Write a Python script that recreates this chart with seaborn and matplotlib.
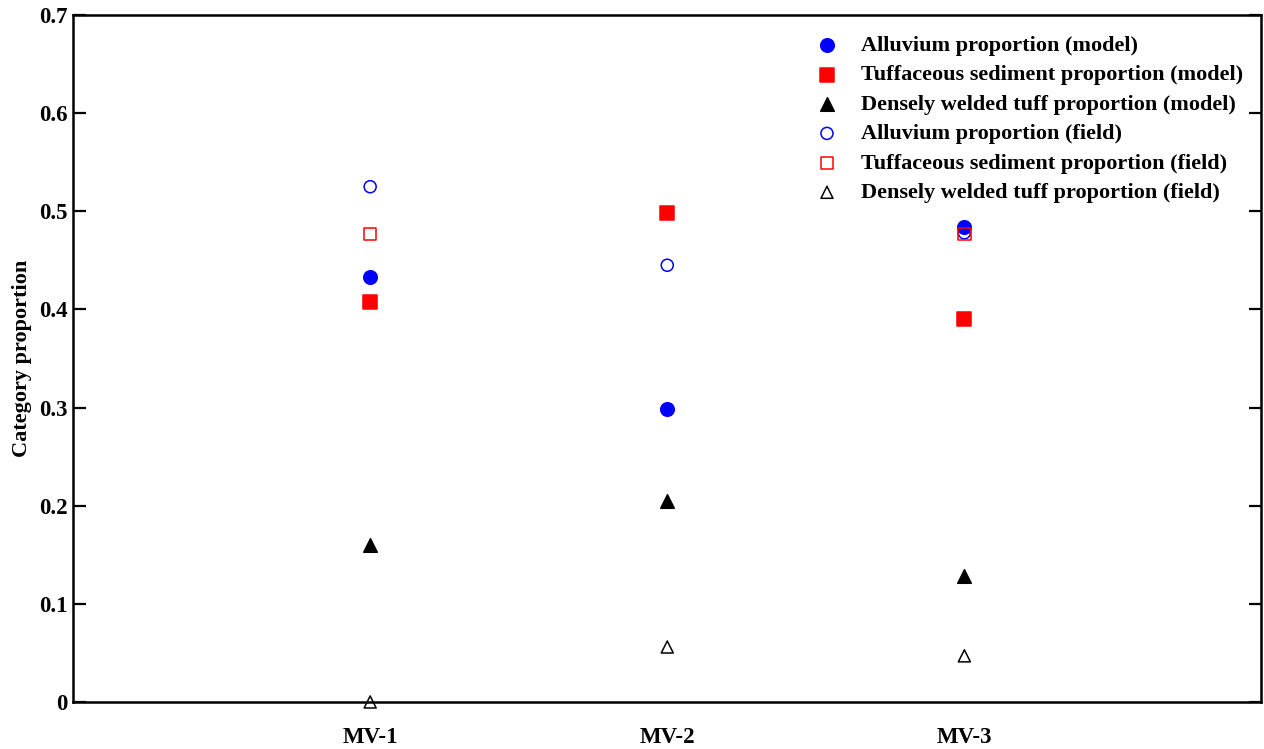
import numpy as np
import pandas as pd
import matplotlib
matplotlib.use("Agg")
import matplotlib.pyplot as plt
import seaborn as sns

# ========== Datos ==========
sites = ["MV-1", "MV-2", "MV-3"]
x_pos = [1, 2, 3]

alluvium_model = [0.433, 0.299, 0.484]
tuffaceous_model = [0.408, 0.498, 0.390]
welded_model = [0.160, 0.205, 0.128]
alluvium_field = [0.525, 0.445, 0.478]
tuffaceous_field = [0.477, 0.498, 0.477]
welded_field = [0.0, 0.056, 0.047]

y_ticks = [0, 0.1, 0.2, 0.3, 0.4, 0.5, 0.6, 0.7]
y_tick_labels = ["0", "0.1", "0.2", "0.3", "0.4", "0.5", "0.6", "0.7"]

# ========== Estilo ==========
sns.set_style("white")
plt.rcParams['font.family'] = ['Liberation Serif', 'DejaVu Serif']
plt.rcParams['font.weight'] = 'bold'
plt.rcParams['text.color'] = 'black'
plt.rcParams['axes.labelcolor'] = 'black'
plt.rcParams['xtick.color'] = 'black'
plt.rcParams['ytick.color'] = 'black'

fig = plt.figure(figsize=(12.64, 7.49), dpi=100)
ax = fig.add_axes([0.0578, 0.0628, 0.9402, 0.9172])

series = [
    (alluvium_model, "Alluvium proportion (model)", "o", "blue", "blue", 95),
    (tuffaceous_model, "Tuffaceous sediment proportion (model)", "s", "red", "red", 105),
    (welded_model, "Densely welded tuff proportion (model)", "^", "black", "black", 95),
    (alluvium_field, "Alluvium proportion (field)", "o", "none", "blue", 75),
    (tuffaceous_field, "Tuffaceous sediment proportion (field)", "s", "none", "red", 80),
    (welded_field, "Densely welded tuff proportion (field)", "^", "none", "black", 75),
]

for vals, label, mk, fc, ec, sz in series:
    sns.scatterplot(x=x_pos, y=vals, ax=ax, marker=mk, s=sz,
                    facecolor=fc, edgecolor=ec, linewidth=1.1,
                    label=label, clip_on=False, zorder=3)

ax.set_xlim(0, 4)
ax.set_ylim(0, 0.7)
ax.set_xticks(x_pos)
ax.set_xticklabels(sites, fontsize=16.5, fontweight='bold')
ax.set_yticks(y_ticks)
ax.set_yticklabels(y_tick_labels, fontsize=16.5, fontweight='bold')
ax.tick_params(axis='x', length=0, pad=18)
ax.tick_params(axis='y', direction='in', length=9, width=1.6, right=True, left=True, pad=4)
ax.set_ylabel("Category proportion", fontsize=16, fontweight='bold', labelpad=5)

for sp in ax.spines.values():
    sp.set_visible(True)
    sp.set_color("black")
    sp.set_linewidth(1.8)

leg = ax.legend(loc='upper right', bbox_to_anchor=(0.998, 0.993), frameon=False,
                prop={'family': 'Liberation Serif', 'weight': 'bold', 'size': 16},
                handletextpad=0.55, labelspacing=0.4, borderaxespad=0.3,
                borderpad=0.4)

fig.savefig("out.png", dpi=100)
